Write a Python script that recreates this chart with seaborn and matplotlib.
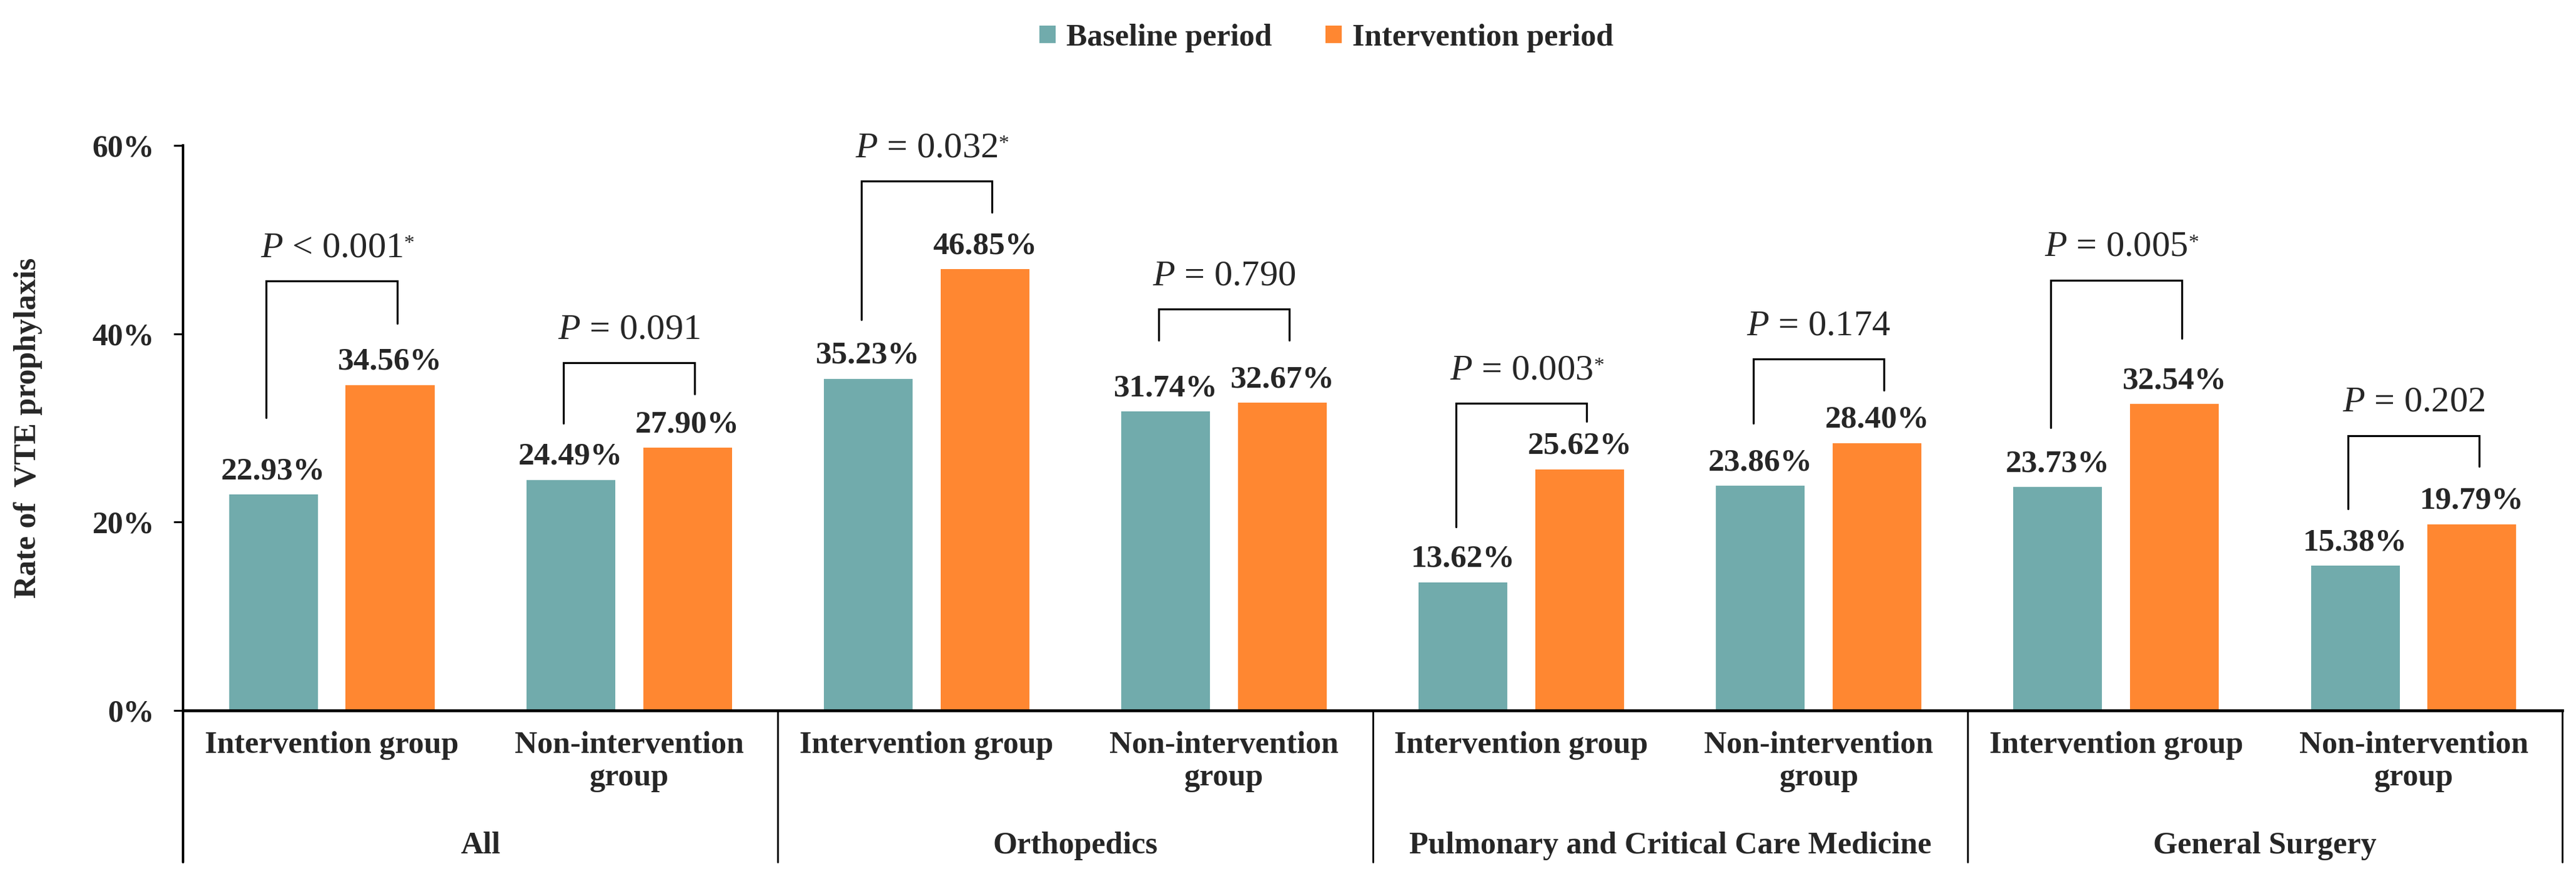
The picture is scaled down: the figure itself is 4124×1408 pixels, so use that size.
import pandas as pd
import seaborn as sns
import matplotlib.pyplot as plt
from matplotlib.ticker import FuncFormatter

# Data ------------------------------------------------------------------------

departments = ["All", "Orthopedics", "Pulmonary and Critical Care Medicine", "General Surgery"]
subgroups = ["Intervention group", "Non-intervention\ngroup"]
periods = ["Baseline period", "Intervention period"]

baseline = [22.93, 24.49, 35.23, 31.74, 13.62, 23.86, 23.73, 15.38]
intervention = [34.56, 27.90, 46.85, 32.67, 25.62, 28.40, 32.54, 19.79]

p_values = ["< 0.001", "= 0.091", "= 0.032", "= 0.790", "= 0.003", "= 0.174", "= 0.005", "= 0.202"]
significant = [True, False, True, False, True, False, True, False]

# bracket levels (in % units)
bracket_top = [45.6, 36.9, 56.2, 42.6, 32.6, 37.3, 45.7, 29.2]
bracket_left = [31.1, 30.5, 41.5, 39.3, 19.5, 30.5, 30.0, 21.4]
bracket_right = [41.1, 33.6, 52.9, 39.3, 30.7, 34.0, 39.5, 25.9]

teal = "#71ABAC"
orange = "#FF8731"

# Long table for seaborn ------------------------------------------------------

keys = [d + " | " + s for d in departments for s in subgroups]
df = pd.DataFrame({
  "key": keys * 2,
  "rate": baseline + intervention,
  "period": [periods[0]] * len(keys) + [periods[1]] * len(keys),
})

# Style -----------------------------------------------------------------------

sns.set_style("white")
plt.rcParams["font.family"] = ["Liberation Serif", "DejaVu Serif"]
plt.rcParams["mathtext.fontset"] = "custom"
plt.rcParams["mathtext.rm"] = "Liberation Serif"
plt.rcParams["mathtext.it"] = "Liberation Serif:italic"

fig = plt.figure(figsize = (41.24, 14.08), dpi = 100)
ax = fig.add_axes([0.07105, 0.19176, 0.92362, 0.64276])

sns.barplot(data = df, x = "key", y = "rate", hue = "period", order = keys,
            hue_order = periods, palette = [teal, orange], width = 0.785, gap = 0.24,
            linewidth = 0, saturation = 1, ax = ax)

ax.set_xlim(-0.5, len(keys) - 0.5)
ax.set_ylim(0, 60)
ax.set_xlabel("")
ax.set_ylabel("")

# Axes ------------------------------------------------------------------------

for side in ["top", "right"]:
    ax.spines[side].set_visible(False)
ax.spines["left"].set_linewidth(2.9)
ax.spines["bottom"].set_linewidth(3.3)
ax.spines["left"].set_color("black")
ax.spines["bottom"].set_color("black")

ax.set_yticks([0, 20, 40, 60])
ax.yaxis.set_major_formatter(FuncFormatter(lambda v, pos: f"{v:.0f}%"))
ax.tick_params(axis = "y", direction = "out", length = 10.8, width = 2.2, pad = 22,
               labelsize = 36, left = True, color = "black")
for t in ax.get_yticklabels():
    t.set_fontweight("bold")

ax.set_xticks(range(len(keys)))
ax.set_xticklabels(subgroups * len(departments), fontsize = 36, fontweight = "bold",
                   linespacing = 1.15)
ax.tick_params(axis = "x", length = 0, pad = 24)

fig.text(45 / 4124, 0.5135, "Rate of  VTE prophylaxis", rotation = 90, ha = "center",
         va = "center", fontsize = 36, fontweight = "bold")

# Value labels ----------------------------------------------------------------

for container, values in zip(ax.containers, [baseline, intervention]):
    ax.bar_label(container, labels = [f"{v:.2f}%" for v in values], padding = 10,
                 fontsize = 37, fontweight = "bold")

# P-value brackets ------------------------------------------------------------

half = 0.22

for i in range(len(keys)):
    top = bracket_top[i]
    ax.plot([i - half, i - half, i + half, i + half],
            [bracket_left[i], top, top, bracket_right[i]],
            color = "black", lw = 2.3, solid_joinstyle = "miter", clip_on = False)
    ptext = ax.annotate(r"$\mathit{P}$ " + p_values[i], (i, top), xytext = (0, 38),
                        textcoords = "offset points", ha = "center", va = "center",
                        fontsize = 42)
    if significant[i]:
        ax.annotate("*", xy = (1.0, 0.92), xycoords = ptext, xytext = (1, 0),
                    textcoords = "offset points", ha = "left", va = "top", fontsize = 24)

# Department separators and labels --------------------------------------------

trans = ax.get_xaxis_transform()
for j, x in enumerate([-0.5, 1.5, 3.5, 5.5, 7.5]):
    ax.plot([x, x], [0, -0.2685], transform = trans, clip_on = False, color = "black",
            lw = 2.9 if j == 0 else 2.0)

for k, name in enumerate(departments):
    ax.text(2 * k + 0.5, -0.24, name, transform = trans, ha = "center", va = "center",
            fontsize = 36, fontweight = "bold")

# Legend ----------------------------------------------------------------------

handles, labels = ax.get_legend_handles_labels()
ax.get_legend().remove()
fig.legend(handles, labels, loc = "center", bbox_to_anchor = (0.515, 0.9567), ncol = 2,
           frameon = False, prop = {"size": 36, "weight": "bold"}, handlelength = 0.52,
           handleheight = 0.5, handletextpad = 0.34, columnspacing = 1.72)

fig.savefig("out.png", dpi = 100, facecolor = "white")
